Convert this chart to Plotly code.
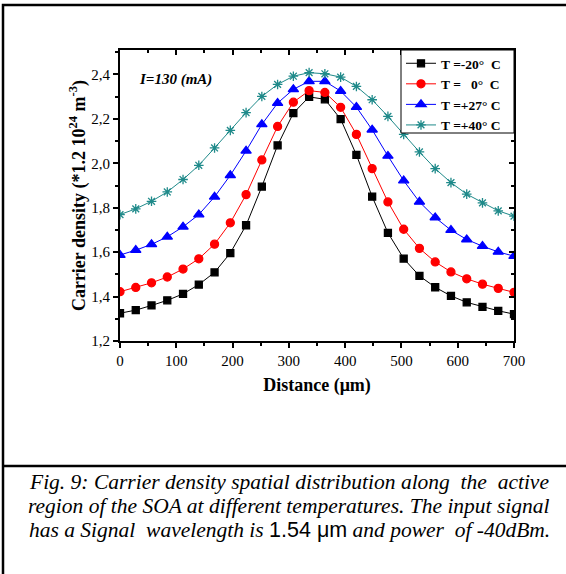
import plotly.graph_objects as go

distance = [i * 28 for i in range(26)]
t_m20 = [1.325,1.339,1.360,1.383,1.412,1.454,1.509,1.596,1.721,1.895,2.081,2.226,2.299,2.288,2.199,2.038,1.850,1.687,1.571,1.493,1.442,1.403,1.374,1.354,1.336,1.321]
t_0 = [1.422,1.441,1.462,1.488,1.524,1.570,1.636,1.732,1.859,2.015,2.166,2.275,2.327,2.319,2.252,2.130,1.976,1.826,1.703,1.617,1.556,1.511,1.480,1.456,1.437,1.419]
t_p27 = [1.587,1.609,1.635,1.669,1.714,1.769,1.849,1.946,2.056,2.175,2.271,2.333,2.369,2.369,2.325,2.253,2.151,2.033,1.922,1.826,1.756,1.699,1.657,1.627,1.601,1.582]
t_p40 = [1.769,1.795,1.829,1.871,1.927,1.991,2.069,2.148,2.228,2.301,2.355,2.392,2.408,2.403,2.388,2.346,2.286,2.211,2.130,2.051,1.976,1.913,1.861,1.822,1.786,1.762]

x_ticks = [0, 100, 200, 300, 400, 500, 600, 700]
x_minor = [50, 150, 250, 350, 450, 550, 650]
y_ticks = [1.2, 1.4, 1.6, 1.8, 2.0, 2.2, 2.4]
y_minor = [1.3, 1.5, 1.7, 1.9, 2.1, 2.3, 2.5]

NB = "\u00a0"
names = ["T =-20°" + NB + NB + "C", "T =" + NB * 3 + "0°" + NB + NB + "C", "T =+27°" + NB + "C", "T =+40°" + NB + "C"]
series = [t_m20, t_0, t_p27, t_p40]
colors = ["#000000", "#ff0000", "#0000ff", "#1f8a8a"]
symbols = ["square", "circle", "triangle-up", "asterisk-open"]
sizes = [7, 8, 9, 8]

fig = go.Figure()
for n, s, c, sym, sz in zip(names, series, colors, symbols, sizes):
    fig.add_trace(go.Scatter(
        x=distance, y=s, name=n, mode="lines+markers",
        line=dict(color=c, width=1),
        marker=dict(symbol=sym, color=c, size=sz, line=dict(color=c, width=1.3)),
    ))

# invisible helper trace so the top/right frame axes (inside ticks) are drawn
fig.add_trace(go.Scatter(x=distance, y=t_m20, xaxis="x2", yaxis="y2", mode="lines",
                         line=dict(width=0), opacity=0, showlegend=False, hoverinfo="skip"))

W, H = 566, 574
L, R, T, B = 120, 52, 50, 233
pw, ph = W - L - R, H - T - B

def px2paper_x(px):
    return (px - L) / pw

def px2paper_y(py):
    return 1 - (py - T) / ph

serif = "Liberation Serif"
tick_common = dict(showgrid=False, zeroline=False, showline=True, linecolor="black", linewidth=2,
                   tickwidth=1.5, tickcolor="black")
fig.update_layout(
    width=W, height=H,
    margin=dict(l=L, r=R, t=T, b=B),
    paper_bgcolor="white", plot_bgcolor="white",
    separators=",.",
    font=dict(family=serif, color="black", size=15),
    showlegend=True,
    legend=dict(
        x=px2paper_x(401), y=px2paper_y(48), xanchor="left", yanchor="top",
        borderwidth=0, bgcolor="rgba(255,255,255,0)",
        font=dict(family=serif, size=13.5, color="black", weight="bold"),
        tracegroupgap=0, itemwidth=30,
    ),
    xaxis=dict(
        range=[0, 700], tickvals=x_ticks, **tick_common,
        ticks="outside", ticklen=5,
        minor=dict(tickvals=x_minor, ticks="outside", ticklen=3, tickwidth=1.5, tickcolor="black"),
        tickfont=dict(family=serif, size=15),
        title=dict(text="<b>Distance (μm)</b>", font=dict(family=serif, size=18), standoff=10),
    ),
    yaxis=dict(
        range=[1.2, 2.51], tickvals=y_ticks, tickformat=".1f", **tick_common,
        ticks="outside", ticklen=5,
        minor=dict(tickvals=y_minor, ticks="outside", ticklen=3, tickwidth=1.5, tickcolor="black"),
        tickfont=dict(family=serif, size=15),
        title=dict(text="<b>Carrier density (*1.2 10<sup>24</sup> m<sup>-3</sup>)</b>", font=dict(family=serif, size=18), standoff=1),
    ),
    xaxis2=dict(
        range=[0, 700], overlaying="x", side="top", anchor="y2", tickvals=x_ticks, showticklabels=False,
        **tick_common, ticks="inside", ticklen=5,
        minor=dict(tickvals=x_minor, ticks="inside", ticklen=3, tickwidth=1.5, tickcolor="black"),
    ),
    yaxis2=dict(
        range=[1.2, 2.51], overlaying="y", side="right", anchor="x2", tickvals=y_ticks, showticklabels=False,
        **tick_common, ticks="inside", ticklen=5,
        minor=dict(tickvals=y_minor, ticks="inside", ticklen=3, tickwidth=1.5, tickcolor="black"),
    ),
)

# legend frame
fig.add_shape(type="rect", xref="paper", yref="paper",
              x0=px2paper_x(401), x1=1, y0=px2paper_y(133), y1=1,
              line=dict(color="black", width=1), fillcolor="white", layer="above")

fig.add_annotation(
    x=px2paper_x(137), y=px2paper_y(80), xref="paper", yref="paper",
    xanchor="left", yanchor="middle", showarrow=False,
    text="<b><i>I=130 (mA)</i></b>", font=dict(family=serif, size=15, color="black"),
)

caption_lines = [
    "<i>Fig. 9: Carrier density spatial distribution along" + NB + " the" + NB + " active</i>",
    "<i>region of the SOA at different temperatures. The input signal</i>",
    "<i>has a Signal" + NB + " wavelength is </i><span style=\"font-family:'Liberation Sans'\">1.54 μm</span><i> and power" + NB + " of -40dBm.</i>",
]
caption_y = [482, 506, 530]
for txt, yy in zip(caption_lines, caption_y):
    fig.add_annotation(
        x=px2paper_x(289), y=px2paper_y(yy), xref="paper", yref="paper",
        xanchor="center", yanchor="middle", showarrow=False, align="center",
        text=txt, font=dict(family=serif, size=21.5, color="black"),
    )

# Outer frame and separator
fig.add_shape(type="rect", xref="paper", yref="paper",
              x0=px2paper_x(3), x1=px2paper_x(570), y0=px2paper_y(580), y1=px2paper_y(5),
              line=dict(color="black", width=2.5), fillcolor="rgba(0,0,0,0)", layer="above")
fig.add_shape(type="line", xref="paper", yref="paper",
              x0=px2paper_x(3), x1=px2paper_x(570), y0=px2paper_y(466), y1=px2paper_y(466),
              line=dict(color="black", width=2.5))

fig.write_html("out.html")
